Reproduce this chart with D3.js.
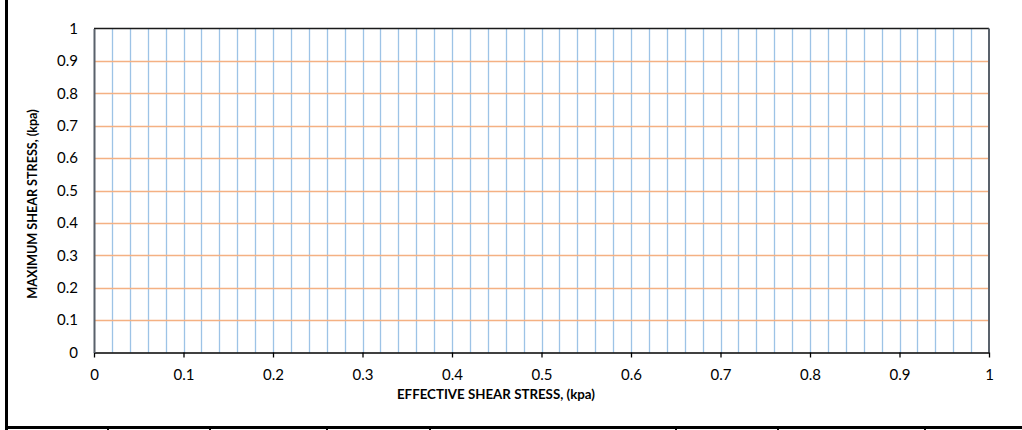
<!DOCTYPE html>
<html>
<head>
<meta charset="utf-8">
<script src="https://cdn.jsdelivr.net/npm/d3@7"></script>
<style>
  html, body { margin: 0; padding: 0; background: #fff; }
  svg { display: block; }
  text { font-family: Lato, "Open Sans", "Liberation Sans", sans-serif; fill: #000; }
</style>
</head>
<body>
<svg id="chart" width="1022" height="430"></svg>
<script>
// ---- data ----
const xTickValues = [0, 0.1, 0.2, 0.3, 0.4, 0.5, 0.6, 0.7, 0.8, 0.9, 1];
const xTickLabels = ["0", "0.1", "0.2", "0.3", "0.4", "0.5", "0.6", "0.7", "0.8", "0.9", "1"];
const yTickValues = [0, 0.1, 0.2, 0.3, 0.4, 0.5, 0.6, 0.7, 0.8, 0.9, 1];
const yTickLabels = ["0", "0.1", "0.2", "0.3", "0.4", "0.5", "0.6", "0.7", "0.8", "0.9", "1"];
const xGridValues = [0.02, 0.04, 0.06, 0.08, 0.1, 0.12, 0.14, 0.16, 0.18, 0.2,
  0.22, 0.24, 0.26, 0.28, 0.3, 0.32, 0.34, 0.36, 0.38, 0.4,
  0.42, 0.44, 0.46, 0.48, 0.5, 0.52, 0.54, 0.56, 0.58, 0.6,
  0.62, 0.64, 0.66, 0.68, 0.7, 0.72, 0.74, 0.76, 0.78, 0.8,
  0.82, 0.84, 0.86, 0.88, 0.9, 0.92, 0.94, 0.96, 0.98];
const yGridValues = [0.1, 0.2, 0.3, 0.4, 0.5, 0.6, 0.7, 0.8, 0.9];
const xTitle = "EFFECTIVE SHEAR STRESS, (kpa)";
const yTitle = "MAXIMUM SHEAR STRESS, (kpa)";

// ---- layout ----
const svg = d3.select("#chart");
const plot = { left: 94, right: 989, top: 28.5, bottom: 352.5 };

const x = d3.scaleLinear().domain([0, 1]).range([plot.left, plot.right]);
const y = d3.scaleLinear().domain([0, 1]).range([plot.bottom, plot.top]);

// page frame (left border and cropped table line at bottom)
svg.append("line").attr("x1", 6.5).attr("x2", 6.5).attr("y1", 0).attr("y2", 430)
  .attr("stroke", "#000").attr("stroke-width", 3);
svg.append("line").attr("x1", 5).attr("x2", 1022).attr("y1", 427.5).attr("y2", 427.5)
  .attr("stroke", "#000").attr("stroke-width", 3);
const tableDividers = [108, 210, 327, 430, 676, 778, 925];
svg.selectAll("line.div").data(tableDividers).enter().append("line")
  .attr("class", "div")
  .attr("x1", d => d).attr("x2", d => d).attr("y1", 426).attr("y2", 430)
  .attr("stroke", "#000").attr("stroke-width", 2);

// vertical gridlines (blue)
svg.append("g").selectAll("line").data(xGridValues).enter().append("line")
  .attr("x1", d => Math.round(x(d)) + 0.5).attr("x2", d => Math.round(x(d)) + 0.5)
  .attr("y1", plot.top).attr("y2", plot.bottom)
  .attr("stroke", "#9dc3e6").attr("stroke-width", 1.3);

// horizontal gridlines (orange)
svg.append("g").selectAll("line").data(yGridValues).enter().append("line")
  .attr("x1", plot.left).attr("x2", plot.right)
  .attr("y1", d => Math.round(y(d)) + 0.5).attr("y2", d => Math.round(y(d)) + 0.5)
  .attr("stroke", "#f4b183").attr("stroke-width", 1.3);

// plot border
svg.append("line").attr("x1", plot.left).attr("x2", plot.right)
  .attr("y1", plot.top).attr("y2", plot.top)
  .attr("stroke", "#1a1a1a").attr("stroke-width", 1.5);
svg.append("line").attr("x1", plot.right).attr("x2", plot.right)
  .attr("y1", plot.top).attr("y2", plot.bottom)
  .attr("stroke", "#59616b").attr("stroke-width", 2);

// x axis
const xAxis = d3.axisBottom(x).tickValues(xTickValues)
  .tickFormat((d, i) => xTickLabels[i]).tickSizeInner(5).tickSizeOuter(0).tickPadding(12);
const gx = svg.append("g").attr("transform", `translate(0,${plot.bottom})`).call(xAxis);
gx.select(".domain").attr("stroke", "#000").attr("stroke-width", 1.5);
gx.selectAll(".tick line").attr("stroke", "#000").attr("stroke-width", 1.3);
gx.selectAll(".tick text").attr("font-size", 15).attr("font-family", "Lato, sans-serif").attr("fill", "#000");

// y axis
const yAxis = d3.axisLeft(y).tickValues(yTickValues)
  .tickFormat((d, i) => yTickLabels[i]).tickSizeInner(0).tickSizeOuter(0).tickPadding(16);
const gy = svg.append("g").attr("transform", `translate(${plot.left},0)`).call(yAxis);
gy.select(".domain").attr("stroke", "#59616b").attr("stroke-width", 2);
gy.selectAll(".tick text").attr("font-size", 15).attr("font-family", "Lato, sans-serif").attr("fill", "#000");

// axis titles
svg.append("text").attr("x", 496).attr("y", 399)
  .attr("text-anchor", "middle").attr("font-size", 13.3).attr("font-weight", "bold")
  .text(xTitle);
svg.append("text").attr("transform", "translate(37,204) rotate(-90)")
  .attr("text-anchor", "middle").attr("font-size", 12.6).attr("font-weight", "bold")
  .text(yTitle);
</script>
</body>
</html>
